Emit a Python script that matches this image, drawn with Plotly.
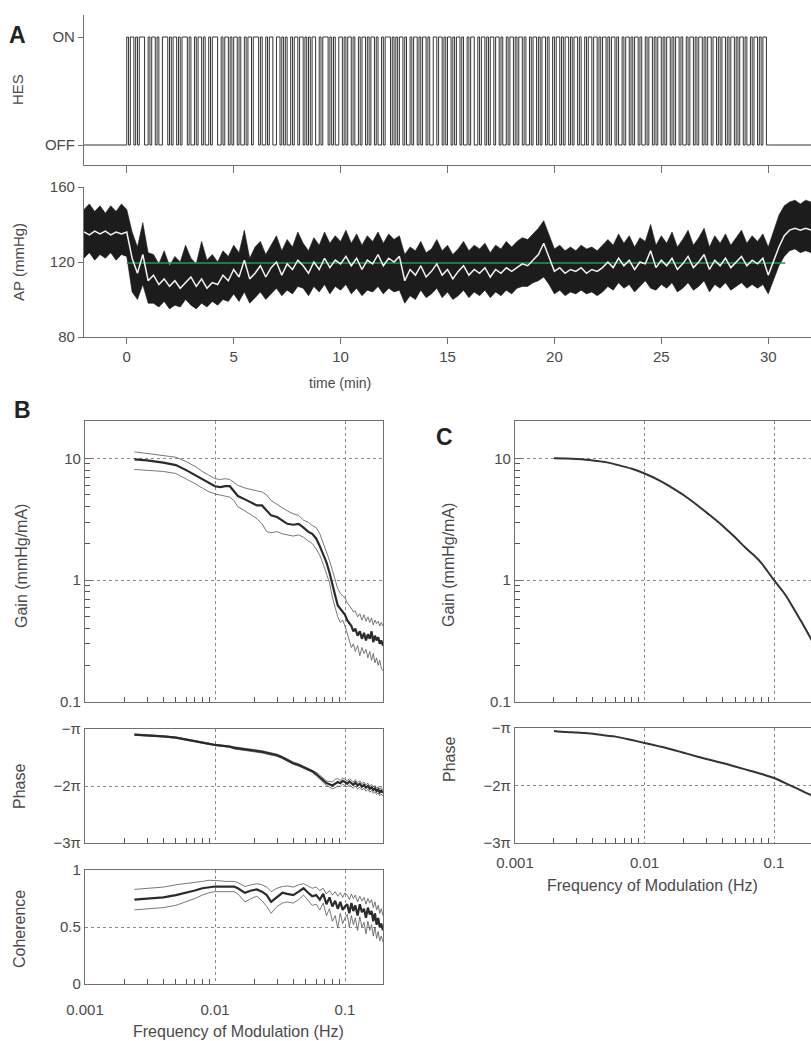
import numpy as np
import plotly.graph_objects as go

W, H = 811, 1041

# ---------------- Panel A data ----------------
hes_bits = (
    "101101011100101101001110101101"
    "011101001011010010111001011010"
    "110100101101110100101100110101"
    "001011011010101100101110101001"
    "101011010010110101101001011101"
    "010110100101101011010011011010"
    "110101101001011001011010110110"
    "100101101011010010110101101001"
    "011010110101101001011011010110"
    "101101001011010110100101101011"
    "010110101101001011010110101101"
    "101011010110101101001011010110"
)
hes_duration = 30.0          # min
hes_levels = ["OFF", "ON"]
time_ticks = [0, 5, 10, 15, 20, 25, 30]

ap_t0, ap_dt = -2.0, 0.25    # sampling of the AP traces (min)
ap_mean = [136, 134.5, 136.5, 135, 136.5, 134.5, 136, 135, 136,
           122, 114, 124, 110,
           113, 108, 111, 107, 110, 106, 109, 112, 107, 111, 106, 109,
           108, 113, 110, 116, 112, 121, 111, 114, 118, 112, 117, 120, 113, 119, 116, 121,
           118, 114, 120, 116, 122, 117, 121, 119, 123, 118, 122, 116, 121, 119, 124, 118, 122, 120, 123,
           110, 116, 113, 118, 112, 115, 119, 113, 116, 111, 115, 118, 113, 116, 114, 117, 112, 116, 114, 117, 115,
           117, 119, 118, 121, 124, 130, 122,
           115, 117, 114, 116, 115, 117, 114, 116, 115, 117,
           120, 117, 122, 118, 121, 116, 120, 119, 126, 117, 121, 118, 122, 116, 119, 123, 117, 120, 124, 116,
           121, 118, 122, 117, 120, 123, 118, 121, 119, 122, 113,
           121, 128, 134, 137, 138, 137, 138, 137]
ap_upper = [148, 151, 147, 150, 146, 150, 147, 151, 148,
            136, 128, 141, 125,
            124, 119, 126, 118, 123, 120, 129, 122, 119, 131, 121, 124,
            120, 126, 123, 129, 125, 137, 122, 128, 131, 124, 129, 134, 126, 132, 128, 136,
            130, 126, 133, 129, 136, 130, 134, 131, 137, 130, 135, 129, 134, 131, 136, 130, 135, 132, 134,
            124, 128, 126, 131, 125, 127, 132, 126, 129, 124, 127, 131, 126, 129, 127, 130, 125, 129, 127, 131, 128,
            131, 133, 132, 135, 138, 142, 135,
            127, 129, 126, 128, 126, 129, 127, 128, 126, 129,
            132, 129, 135, 130, 134, 128, 133, 131, 140, 129, 134, 130, 136, 128, 132, 137, 129, 133, 138, 128,
            134, 130, 135, 129, 133, 137, 130, 134, 131, 135, 128,
            136, 145, 150, 152, 153, 151, 153, 152]
ap_lower = [122, 125, 121, 124, 122, 125, 121, 124, 123,
            104, 100, 108, 98,
            98, 96, 99, 95, 97, 96, 100, 97, 95, 98, 96, 99,
            97, 100, 99, 103, 99, 104, 98, 101, 104, 100, 103, 106, 102, 105, 103, 107,
            106, 102, 107, 104, 108, 103, 107, 105, 108, 103, 106, 102, 105, 104, 107, 103, 106, 104, 105,
            98, 102, 100, 105, 101, 103, 106, 101, 104, 100, 102, 105, 101, 104, 102, 105, 101, 104, 102, 105, 103,
            106, 107, 107, 109, 110, 112, 108,
            103, 105, 102, 104, 103, 105, 103, 104, 102, 104,
            107, 105, 109, 106, 108, 104, 107, 110, 106, 105, 108, 106, 109, 104, 106, 109, 105, 107, 110, 104,
            108, 106, 109, 105, 107, 109, 106, 108, 106, 108, 103,
            110, 118, 123, 126, 127, 125, 126, 125]
ap_target = 119.5
ap_target_span = [0.0, 30.8]
ap_ticks = [80, 120, 160]

# ---------------- Panel B data (experimental) ----------------
freq_B = [0.0024, 0.003, 0.004, 0.005, 0.006, 0.007, 0.008, 0.009,
          0.010, 0.011, 0.012, 0.013, 0.014, 0.015,
          0.017, 0.019, 0.021, 0.023, 0.025, 0.027,
          0.030, 0.033, 0.036,
          0.040, 0.044, 0.048, 0.052, 0.056, 0.060, 0.064, 0.068, 0.072, 0.076, 0.080, 0.084, 0.088, 0.092, 0.096, 0.100,
          0.104, 0.108, 0.112, 0.116, 0.120,
          0.125, 0.130, 0.135, 0.140, 0.145, 0.150,
          0.155, 0.160, 0.165, 0.170, 0.175, 0.180, 0.185, 0.190, 0.196]
gain_B_mean = [9.8, 9.6, 9.2, 8.8, 8.0, 7.3, 6.8, 6.3, 5.9, 5.8, 5.9, 5.9, 5.3, 4.9,
               4.6, 4.3, 4.1, 4.1, 3.7, 3.4, 3.3, 3.1, 2.9,
               2.85, 2.9, 2.7, 2.5, 2.4, 2.2, 1.9, 1.6, 1.4, 1.15, 0.9, 0.75, 0.62, 0.58, 0.55, 0.52,
               0.47, 0.44, 0.42, 0.38, 0.40, 0.35, 0.38, 0.33, 0.37, 0.32, 0.36,
               0.33, 0.38, 0.31, 0.35, 0.32, 0.34, 0.30, 0.32, 0.29]
gain_B_upper = [11.3, 11.0, 10.6, 10.2, 9.4, 8.6, 7.8, 7.2, 6.8, 6.7, 6.8, 6.7, 6.3, 6.0,
                5.7, 5.5, 5.4, 5.3, 5.0, 4.5, 4.2, 3.9, 3.7,
                3.5, 3.4, 3.1, 3.0, 2.8, 2.7, 2.4, 2.0, 1.75, 1.45, 1.2, 1.0, 0.85, 0.78, 0.74, 0.72,
                0.65, 0.62, 0.58, 0.55, 0.56, 0.50, 0.53, 0.47, 0.52, 0.46, 0.50,
                0.45, 0.49, 0.43, 0.47, 0.44, 0.46, 0.42, 0.45, 0.42]
gain_B_lower = [8.1, 8.0, 7.8, 7.5, 6.8, 6.2, 5.7, 5.3, 5.1, 5.0, 4.9, 4.8, 4.5, 4.0,
                3.7, 3.4, 3.2, 2.9, 2.5, 2.45, 2.5, 2.4, 2.35,
                2.3, 2.35, 2.25, 2.1, 2.0, 1.8, 1.6, 1.35, 1.15, 0.95, 0.72, 0.6, 0.5, 0.45, 0.47, 0.42,
                0.36, 0.32, 0.28, 0.30, 0.26, 0.29, 0.24, 0.28, 0.25, 0.27, 0.23,
                0.26, 0.22, 0.25, 0.21, 0.23, 0.20, 0.22, 0.19, 0.18]
# phase in units of pi
phase_B_mean = [-1.10, -1.11, -1.13, -1.15, -1.18, -1.21, -1.24, -1.26, -1.28, -1.29, -1.30, -1.31, -1.33, -1.34,
                -1.36, -1.37, -1.38, -1.40, -1.42, -1.44, -1.46, -1.50, -1.55,
                -1.60, -1.63, -1.67, -1.70, -1.74, -1.79, -1.84, -1.90, -1.95, -1.97, -1.99, -1.96, -1.93, -1.95, -1.91, -1.93,
                -1.96, -1.92, -1.95, -1.98, -1.94, -1.99, -1.96, -2.01, -1.98, -2.03, -2.00,
                -2.05, -2.02, -2.07, -2.04, -2.09, -2.06, -2.11, -2.08, -2.12]
phase_B_upper = [-1.09, -1.10, -1.12, -1.14, -1.17, -1.20, -1.23, -1.25, -1.27, -1.28, -1.29, -1.30, -1.31, -1.32,
                 -1.34, -1.35, -1.36, -1.38, -1.40, -1.42, -1.44, -1.48, -1.53,
                 -1.58, -1.61, -1.65, -1.68, -1.72, -1.76, -1.81, -1.86, -1.91, -1.92, -1.93, -1.88, -1.87, -1.90, -1.86, -1.88,
                 -1.91, -1.87, -1.90, -1.93, -1.89, -1.94, -1.91, -1.96, -1.93, -1.98, -1.95,
                 -2.00, -1.97, -2.02, -1.99, -2.04, -2.01, -2.05, -2.03, -2.06]
phase_B_lower = [-1.11, -1.12, -1.14, -1.16, -1.19, -1.22, -1.25, -1.27, -1.29, -1.30, -1.31, -1.32, -1.35, -1.36,
                 -1.38, -1.39, -1.40, -1.42, -1.44, -1.46, -1.48, -1.52, -1.57,
                 -1.62, -1.65, -1.69, -1.72, -1.76, -1.82, -1.88, -1.94, -1.99, -2.02, -2.05, -2.03, -2.00, -2.01, -1.97, -1.99,
                 -2.02, -1.98, -2.01, -2.04, -2.00, -2.05, -2.02, -2.07, -2.04, -2.09, -2.06,
                 -2.11, -2.08, -2.13, -2.10, -2.15, -2.12, -2.17, -2.14, -2.18]
coh_B_mean = [0.74, 0.75, 0.76, 0.78, 0.80, 0.82, 0.84, 0.85, 0.855, 0.855, 0.855, 0.855, 0.855, 0.84,
              0.80, 0.82, 0.83, 0.81, 0.78, 0.72, 0.76, 0.80, 0.79,
              0.78, 0.81, 0.84, 0.80, 0.77, 0.78, 0.74, 0.79, 0.70, 0.76, 0.68, 0.73, 0.66, 0.72, 0.65, 0.68,
              0.70, 0.62, 0.71, 0.64, 0.69, 0.60, 0.70, 0.63, 0.66, 0.58, 0.67,
              0.61, 0.64, 0.55, 0.62, 0.52, 0.58, 0.50, 0.53, 0.47]
coh_B_upper = [0.83, 0.84, 0.85, 0.87, 0.88, 0.89, 0.90, 0.91, 0.91, 0.905, 0.90, 0.90, 0.90, 0.89,
               0.855, 0.87, 0.88, 0.87, 0.85, 0.81, 0.84, 0.855, 0.86,
               0.85, 0.87, 0.88, 0.86, 0.84, 0.85, 0.82, 0.84, 0.79, 0.82, 0.78, 0.81, 0.77, 0.80, 0.76, 0.80,
               0.78, 0.74, 0.79, 0.75, 0.78, 0.72, 0.77, 0.73, 0.76, 0.70, 0.75,
               0.71, 0.74, 0.67, 0.72, 0.65, 0.69, 0.62, 0.66, 0.60]
coh_B_lower = [0.65, 0.66, 0.67, 0.69, 0.72, 0.75, 0.78, 0.80, 0.81, 0.81, 0.81, 0.81, 0.81, 0.79,
               0.72, 0.75, 0.77, 0.73, 0.68, 0.62, 0.68, 0.71, 0.72,
               0.71, 0.74, 0.78, 0.73, 0.69, 0.70, 0.65, 0.71, 0.60, 0.66, 0.55, 0.60, 0.49, 0.62, 0.53, 0.58,
               0.61, 0.50, 0.60, 0.52, 0.58, 0.47, 0.59, 0.50, 0.54, 0.44, 0.55,
               0.47, 0.52, 0.42, 0.50, 0.40, 0.46, 0.38, 0.42, 0.37]

# ---------------- Panel C data (model) ----------------
freq_C = [0.002, 0.0025, 0.003, 0.004, 0.005, 0.006, 0.008, 0.010,
          0.013, 0.016, 0.020, 0.025, 0.030,
          0.040, 0.050, 0.060, 0.070, 0.080,
          0.100, 0.120, 0.140, 0.160, 0.190, 0.210]
gain_C = [10.0, 9.95, 9.85, 9.6, 9.3, 8.9, 8.2, 7.5,
          6.6, 5.8, 5.0, 4.2, 3.6,
          2.8, 2.25, 1.85, 1.6, 1.38,
          1.0, 0.78, 0.6, 0.47, 0.34, 0.28]
phase_C = [-1.05, -1.07, -1.08, -1.10, -1.13, -1.15, -1.21, -1.26,
           -1.32, -1.37, -1.43, -1.49, -1.54,
           -1.61, -1.67, -1.72, -1.76, -1.80,
           -1.87, -1.95, -2.02, -2.08, -2.16, -2.21]

freq_ticks = [0.001, 0.01, 0.1]
freq_ticktext = ["0.001", "0.01", "0.1"]
freq_minor = [0.002, 0.003, 0.004, 0.005, 0.006, 0.007, 0.008, 0.009,
              0.02, 0.03, 0.04, 0.05, 0.06, 0.07, 0.08, 0.09]
gain_ticks = [0.1, 1, 10]
gain_ticktext = ["0.1", "1", "10"]
gain_minor = [0.2, 0.3, 0.4, 0.5, 0.6, 0.7, 0.8, 0.9, 2, 3, 4, 5, 6, 7, 8, 9]
phase_ticks = [-3, -2, -1]
phase_ticktext = ["\u22123\u03c0", "\u22122\u03c0", "\u2212\u03c0"]
coh_ticks = [0, 0.5, 1]
coh_ticktext = ["0", "0.5", "1"]

# ---------------- helpers ----------------
FONT = "Liberation Sans, Arial, sans-serif"
TXT = "#4a4a4a"
AXC = "#707070"
DARK = "#2b2b2b"


def X(px):
    return px / W


def Y(py):
    return 1 - py / H


fig = go.Figure()

# HES pulse train
bits = [int(c) for c in hes_bits]
unit = hes_duration / len(bits)
hx = [-2.0] + [i * unit for i in range(len(bits))] + [hes_duration, 32.0]
hy = [0] + bits + [0, 0]
fig.add_trace(go.Scatter(x=hx, y=hy, mode="lines", line=dict(shape="hv", width=1, color="#333"),
                         xaxis="x", yaxis="y", hoverinfo="skip"))

# AP band
t = ap_t0 + ap_dt * np.arange(len(ap_mean))
fig.add_trace(go.Scatter(x=t, y=ap_lower, mode="lines", line=dict(width=0.6, color="#1c1c1c"),
                         xaxis="x2", yaxis="y2"))
fig.add_trace(go.Scatter(x=t, y=ap_upper, mode="lines", line=dict(width=0.6, color="#1c1c1c"),
                         fill="tonexty", fillcolor="#1c1c1c", xaxis="x2", yaxis="y2"))
fig.add_trace(go.Scatter(x=ap_target_span, y=[ap_target, ap_target], mode="lines",
                         line=dict(width=1.6, color="#1f9e46"), xaxis="x2", yaxis="y2"))
fig.add_trace(go.Scatter(x=t, y=ap_mean, mode="lines", line=dict(width=1.5, color="#f4f4f4"),
                         xaxis="x2", yaxis="y2"))


def add_band(xa, ya, f, lo, hi, mid):
    for arr in (lo, hi):
        fig.add_trace(go.Scatter(x=f, y=arr, mode="lines", line=dict(width=0.8, color="#555"),
                                 xaxis=xa, yaxis=ya))
    fig.add_trace(go.Scatter(x=f, y=mid, mode="lines", line=dict(width=2.2, color=DARK),
                             xaxis=xa, yaxis=ya))


add_band("x3", "y3", freq_B, gain_B_lower, gain_B_upper, gain_B_mean)
add_band("x4", "y4", freq_B, phase_B_lower, phase_B_upper, phase_B_mean)
add_band("x5", "y5", freq_B, coh_B_lower, coh_B_upper, coh_B_mean)

fig.add_trace(go.Scatter(x=freq_C, y=gain_C, mode="lines", line=dict(width=2, color="#333", shape="spline"),
                         xaxis="x6", yaxis="y6"))
fig.add_trace(go.Scatter(x=freq_C, y=phase_C, mode="lines", line=dict(width=2, color="#333", shape="spline"),
                         xaxis="x7", yaxis="y7"))

# ---------------- axes ----------------
tf = dict(family=FONT, size=15, color=TXT)
base = dict(showline=True, linecolor=AXC, linewidth=1.2, zeroline=False, tickfont=tf,
            tickcolor=AXC, showgrid=False, automargin=False)

lay = {}
lay["xaxis"] = dict(base, domain=[X(84), 1], range=[-2, 32], anchor="y", ticks="outside", ticklen=7,
                    tickvals=time_ticks, showticklabels=False)
lay["yaxis"] = dict(base, domain=[Y(165), Y(15)], range=[-0.1852, 1.2037], anchor="x", ticks="outside",
                    ticklen=5, tickvals=[0, 1], ticktext=hes_levels)
lay["xaxis2"] = dict(base, domain=[X(84), 1], range=[-2, 32], anchor="y2", ticks="outside", ticklen=6,
                     tickvals=time_ticks)
lay["yaxis2"] = dict(base, domain=[Y(337), Y(187)], range=[80, 160], anchor="x2", ticks="outside",
                     ticklen=5, tickvals=ap_ticks)

grid = dict(showgrid=True, gridcolor="#8a8a8a", gridwidth=1, griddash="dot")
minor_x = dict(tickvals=freq_minor, ticks="inside", ticklen=5, tickcolor="#555", tickwidth=1, showgrid=False)
minor_y = dict(tickvals=gain_minor, ticks="inside", ticklen=5, tickcolor="#555", tickwidth=1, showgrid=False)


def fx(dom, rng, anchor, labels, standoff=0):
    d = dict(base, **grid, domain=dom, type="log", range=rng, anchor=anchor, mirror=True,
             ticks="", tickvals=freq_ticks, ticktext=freq_ticktext, showticklabels=labels,
             minor=minor_x)
    if standoff:
        d["ticklabelstandoff"] = standoff
    return d


domB = [X(85), X(383)]
rngB = [-3, -3 + 298 / 130]
domC = [X(515), 1]
rngC = [-3, -3 + 296 / 129.5]

lay["xaxis3"] = fx(domB, rngB, "y3", False)
lay["xaxis4"] = fx(domB, rngB, "y4", False)
lay["xaxis5"] = fx(domB, rngB, "y5", True, standoff=12)
lay["xaxis6"] = fx(domC, rngC, "y6", False)
lay["xaxis7"] = fx(domC, rngC, "y7", True, standoff=6)

gain_y = dict(base, **grid, type="log", range=[-1, 1.306], mirror=True, ticks="inside", ticklen=7,
              tickvals=gain_ticks, ticktext=gain_ticktext, minor=minor_y)
lay["yaxis3"] = dict(gain_y, domain=[Y(702), Y(421)], anchor="x3")
lay["yaxis6"] = dict(gain_y, domain=[Y(702), Y(421)], anchor="x6", mirror=False)
phase_y = dict(base, **grid, range=[-3, -1], mirror=True, ticks="", tickvals=phase_ticks,
               ticktext=phase_ticktext)
lay["yaxis4"] = dict(phase_y, domain=[Y(843), Y(729)], anchor="x4")
lay["yaxis7"] = dict(phase_y, domain=[Y(843), Y(728)], anchor="x7", mirror=False)
lay["yaxis5"] = dict(base, **grid, range=[0, 1], mirror=True, ticks="", tickvals=coh_ticks,
                     ticktext=coh_ticktext, domain=[Y(984), Y(870)], anchor="x5")

# ---------------- text ----------------
ann = []


def txt(s, px, py, size=16, angle=0, bold=False, color=TXT):
    ann.append(dict(text=("<b>%s</b>" % s) if bold else s, x=X(px), y=Y(py), xref="paper", yref="paper",
                    showarrow=False, textangle=angle, xanchor="center", yanchor="middle",
                    font=dict(family=FONT, size=size, color=color)))


txt("A", 17, 35, size=23, bold=True, color="#222")
txt("B", 22, 410, size=23, bold=True, color="#222")
txt("C", 444, 437, size=23, bold=True, color="#222")
txt("HES", 18, 90, size=15, angle=-90)
txt("AP (mmHg)", 18, 262, size=15, angle=-90)
txt("time (min)", 340, 383, size=14)
txt("Gain (mmHg/mA)", 21, 566, angle=-90)
txt("Phase", 19, 787, angle=-90)
txt("Coherence", 19, 929, angle=-90)
txt("Frequency of Modulation (Hz)", 238, 1031)
txt("Gain (mmHg/mA)", 448, 565, angle=-90)
txt("Phase", 449, 760, angle=-90)
txt("Frequency of Modulation (Hz)", 652, 885)

fig.update_layout(width=W, height=H, margin=dict(l=0, r=0, t=0, b=0, autoexpand=False), showlegend=False,
                  paper_bgcolor="white", plot_bgcolor="white", annotations=ann,
                  font=dict(family=FONT, color=TXT), **lay)

fig.write_html("out.html", config={"displayModeBar": False},
               post_script="document.body.style.margin='0';")
